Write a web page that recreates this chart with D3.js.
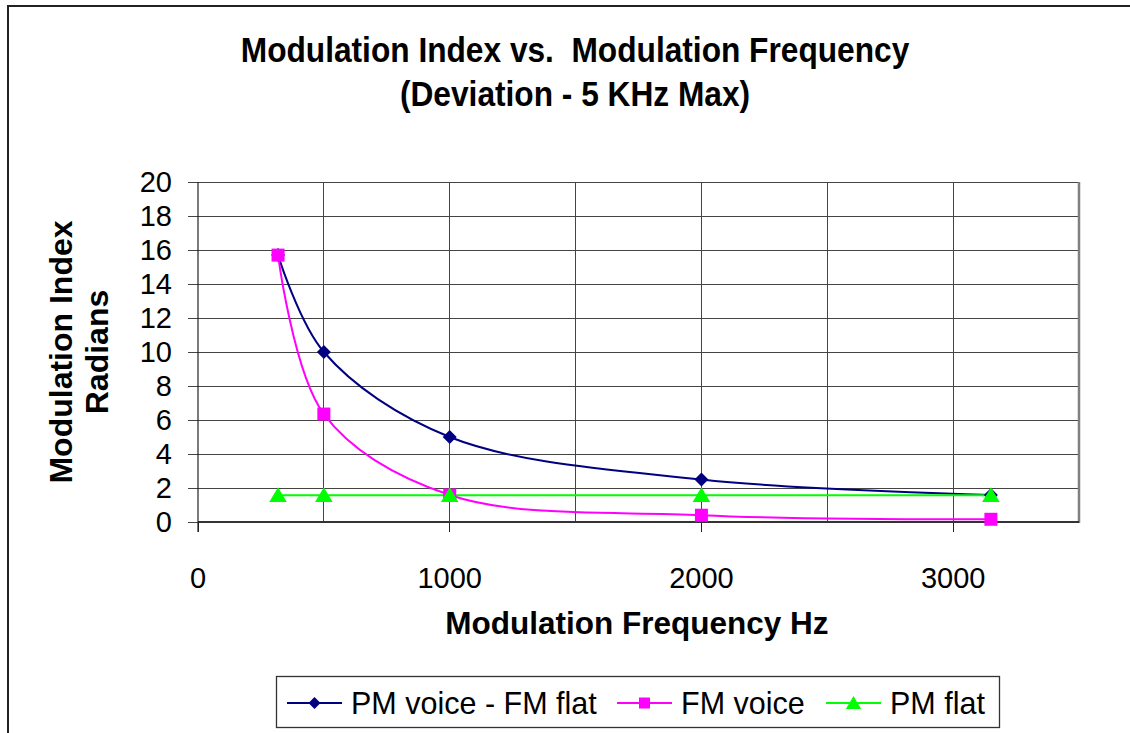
<!DOCTYPE html>
<html><head><meta charset="utf-8">
<script src="https://cdn.jsdelivr.net/npm/d3@7"></script>
<style>body{margin:0;background:#fff;} svg{display:block;}</style>
</head><body>
<svg id="c" width="1130" height="733"></svg>
<script>
const freqs = [318, 500, 1000, 2000, 3150];
const pmVoiceFmFlat = [15.7, 10, 5, 2.5, 1.59];
const fmVoice = [15.7, 6.35, 1.59, 0.4, 0.16];
const pmFlat = [1.57, 1.57, 1.57, 1.57, 1.57];
const xTicks = [0, 1000, 2000, 3000];
const xGrid = [500, 1000, 1500, 2000, 2500, 3000, 3500];
const yTicks = [0, 2, 4, 6, 8, 10, 12, 14, 16, 18, 20];
const seriesNames = ["PM voice - FM flat", "FM voice", "PM flat"];
const seriesColors = ["#000080", "#FF00FF", "#00FF00"];
const seriesMarkers = ["diamond", "square", "triangle"];
const seriesValues = [pmVoiceFmFlat, fmVoice, pmFlat];

const svg = d3.select("#c");
const font = "Arial, 'Liberation Sans', sans-serif";
svg.append("rect").attr("x", 8).attr("y", 6).attr("width", 1140).attr("height", 760)
  .attr("fill", "#fff").attr("stroke", "#222").attr("stroke-width", 2);

const L = 198, R = 1079, T = 182, B = 522;
const x = d3.scaleLinear().domain([0, 3500]).range([L, R]);
const y = d3.scaleLinear().domain([0, 20]).range([B, T]);

const g = svg.append("g");
g.selectAll(".hg").data(yTicks).join("line")
  .attr("x1", L - 10).attr("x2", R).attr("y1", d => y(d)).attr("y2", d => y(d))
  .attr("stroke", "#444").attr("stroke-width", 1).attr("shape-rendering", "crispEdges");
g.selectAll(".vg").data(xGrid).join("line")
  .attr("x1", d => x(d)).attr("x2", d => x(d)).attr("y1", T).attr("y2", B)
  .attr("stroke", "#444").attr("stroke-width", 1).attr("shape-rendering", "crispEdges");
g.selectAll(".xt").data(xTicks).join("line")
  .attr("x1", d => x(d)).attr("x2", d => x(d)).attr("y1", B).attr("y2", B + 10)
  .attr("stroke", "#222").attr("stroke-width", 1).attr("shape-rendering", "crispEdges");
g.append("line").attr("x1", R).attr("x2", R).attr("y1", T).attr("y2", B + 1)
  .attr("stroke", "#808080").attr("stroke-width", 2.5);
g.append("line").attr("x1", L).attr("x2", R).attr("y1", B).attr("y2", B)
  .attr("stroke", "#333").attr("stroke-width", 2);
g.append("line").attr("x1", L).attr("x2", L).attr("y1", T).attr("y2", B + 10)
  .attr("stroke", "#222").attr("stroke-width", 1.2);

svg.append("g").selectAll("text").data(yTicks).join("text")
  .attr("x", 172).attr("y", d => y(d) + 10).attr("text-anchor", "end")
  .attr("font-family", font).attr("font-size", 29).text(d => d);
svg.append("g").selectAll("text").data(xTicks).join("text")
  .attr("x", d => x(d)).attr("y", 588).attr("text-anchor", "middle")
  .attr("font-family", font).attr("font-size", 29).text(d => d);

const title = svg.append("g").attr("transform", "translate(575,0) scale(0.88,1)")
  .append("text").attr("text-anchor", "middle").attr("xml:space", "preserve")
  .style("white-space", "pre")
  .attr("font-family", font).attr("font-weight", "bold").attr("font-size", 36);
title.append("tspan").attr("x", 0).attr("y", 62).text("Modulation Index vs.  Modulation Frequency");
title.append("tspan").attr("x", 0).attr("y", 106).text("(Deviation - 5 KHz Max)");

svg.append("text").attr("x", 637).attr("y", 634).attr("text-anchor", "middle")
  .attr("font-family", font).attr("font-weight", "bold").attr("font-size", 31.5)
  .text("Modulation Frequency Hz");
const yl = svg.append("text").attr("transform", "translate(0,352) rotate(-90)")
  .attr("text-anchor", "middle").attr("font-family", font).attr("font-weight", "bold").attr("font-size", 32);
yl.append("tspan").attr("x", 0).attr("y", 72).text("Modulation Index");
yl.append("tspan").attr("x", 0).attr("y", 108).text("Radians");

const line = d3.line().x(d => x(d[0])).y(d => y(d[1])).curve(d3.curveCatmullRom.alpha(0.5));
function marker(sel, type, color, s) {
  if (type === "diamond") {
    sel.append("path").attr("d", `M0,${-s}L${s},0L0,${s}L${-s},0Z`).attr("fill", color);
  } else if (type === "square") {
    sel.append("rect").attr("x", -s).attr("y", -s).attr("width", 2 * s).attr("height", 2 * s).attr("fill", color);
  } else {
    sel.append("path").attr("d", `M0,${-s}L${s * 1.1},${s * 0.85}L${-s * 1.1},${s * 0.85}Z`).attr("fill", color);
  }
}
const sizes = {diamond: 7, square: 6.5, triangle: 8};
seriesValues.forEach((vals, i) => {
  const pts = freqs.map((f, j) => [f, vals[j]]);
  svg.append("path").attr("d", line(pts)).attr("fill", "none")
    .attr("stroke", seriesColors[i]).attr("stroke-width", 2);
});
seriesValues.forEach((vals, i) => {
  freqs.forEach((f, j) => {
    const m = svg.append("g").attr("transform", `translate(${x(f)},${y(vals[j])})`);
    marker(m, seriesMarkers[i], seriesColors[i], sizes[seriesMarkers[i]]);
  });
});

svg.append("rect").attr("x", 276.5).attr("y", 676.5).attr("width", 723).attr("height", 51)
  .attr("fill", "#fff").attr("stroke", "#333").attr("stroke-width", 1.3);
const legX = [287, 617, 826];
seriesNames.forEach((n, i) => {
  const lg = svg.append("g").attr("transform", `translate(${legX[i]},703)`);
  lg.append("line").attr("x1", 0).attr("x2", 55).attr("y1", 0).attr("y2", 0)
    .attr("stroke", seriesColors[i]).attr("stroke-width", 2);
  const m = lg.append("g").attr("transform", "translate(27.5,0)");
  marker(m, seriesMarkers[i], seriesColors[i], sizes[seriesMarkers[i]] - 1);
  lg.append("text").attr("x", 64).attr("y", 11).attr("font-family", font).attr("font-size", 30.5).text(n);
});
</script>
</body></html>
